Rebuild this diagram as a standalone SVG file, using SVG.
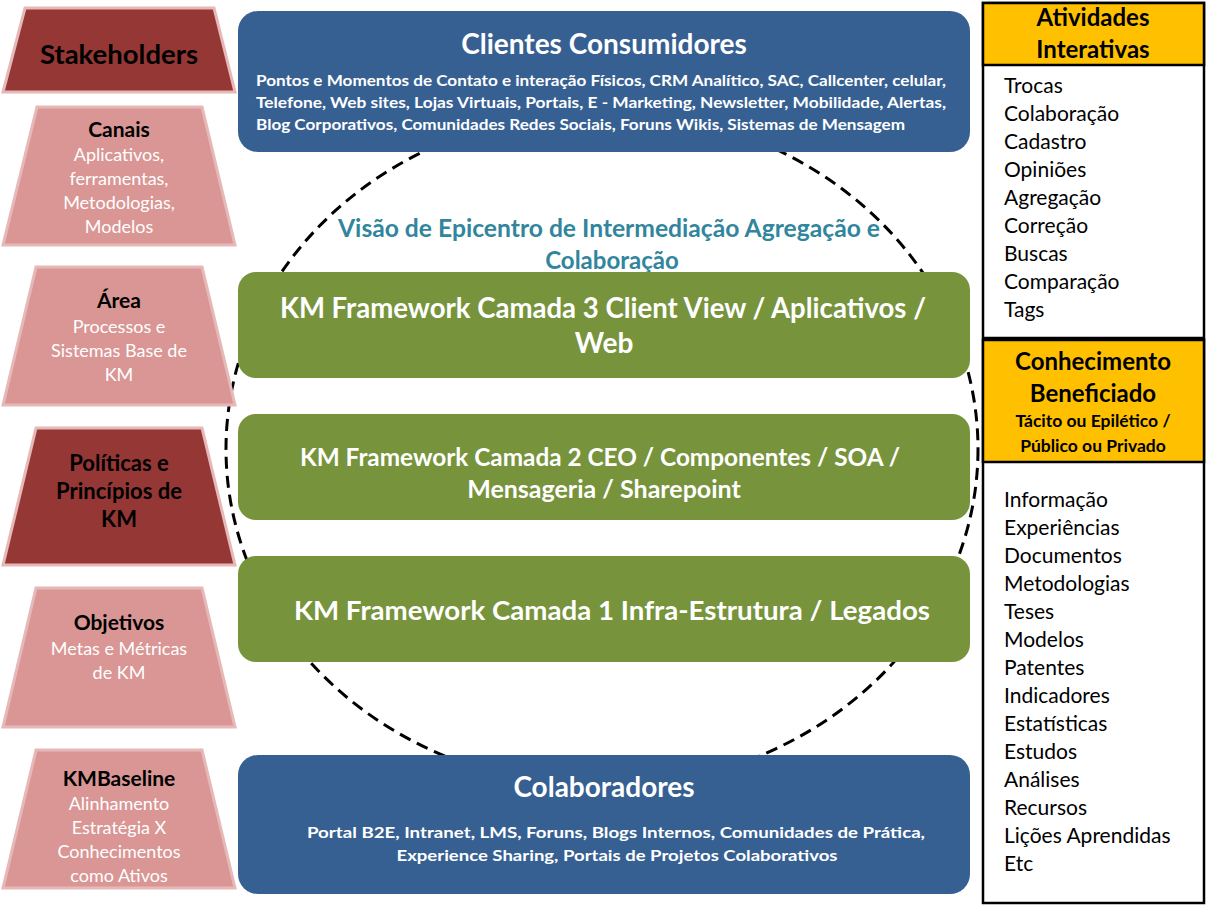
<svg xmlns="http://www.w3.org/2000/svg" width="1207" height="906" viewBox="0 0 1207 906">
<style>
text{font-family:Lato,"Open Sans","Liberation Sans",sans-serif}
.trapD{fill:#953735;stroke:#E6B9B8;stroke-width:3}
.trapL{fill:#D99694;stroke:#E6B9B8;stroke-width:3}
.tb{font-weight:bold;fill:#000;text-anchor:middle;font-size:21px}
.tw{fill:#fff;text-anchor:middle;font-size:18px}
.blue{fill:#376092}
.green{fill:#77933C}
.wb{fill:#fff;font-weight:bold;text-anchor:middle}
.hdr{fill:#FFC000;stroke:#000;stroke-width:2.5}
.lst{fill:#fff;stroke:#000;stroke-width:2.5}
.hb{font-weight:bold;fill:#000;text-anchor:middle}
.li{font-size:21px;fill:#000}
</style>
<rect width="1207" height="906" fill="#fff"/>
<g id="connectors">
<ellipse cx="602" cy="449" rx="376" ry="338" fill="none" stroke="#000" stroke-width="3" stroke-dasharray="12,7"/>
</g>
<g id="stakeholders">
<polygon class="trapD" points="25,8 214,8 235,92 3,92"/>
<text class="tb" x="119" y="64" style="font-size:27.5px">Stakeholders</text>
</g>
<g id="canais">
<polygon class="trapL" points="37,107 202,107 235,245 3,245"/>
<text class="tb" x="119" y="137">Canais</text>
<text class="tw" x="119" y="161">Aplicativos,</text>
<text class="tw" x="119" y="185">ferramentas,</text>
<text class="tw" x="119" y="209">Metodologias,</text>
<text class="tw" x="119" y="233">Modelos</text>
</g>
<g id="area">
<polygon class="trapL" points="36,267 202,267 235,405 3,405"/>
<text class="tb" x="119" y="308">Área</text>
<text class="tw" x="119" y="333">Processos e</text>
<text class="tw" x="119" y="357">Sistemas Base de</text>
<text class="tw" x="119" y="381">KM</text>
</g>
<g id="politicas">
<polygon class="trapD" points="36,428 202,428 235,565 3,565"/>
<text class="tb" x="119" y="471" style="font-size:22px">Políticas e</text>
<text class="tb" x="119" y="499" style="font-size:22px">Princípios de</text>
<text class="tb" x="119" y="527" style="font-size:22px">KM</text>
</g>
<g id="objetivos">
<polygon class="trapL" points="36,588 202,588 235,727 3,727"/>
<text class="tb" x="119" y="630">Objetivos</text>
<text class="tw" x="119" y="655">Metas e Métricas</text>
<text class="tw" x="119" y="679">de KM</text>
</g>
<g id="kmbaseline">
<polygon class="trapL" points="36,750 202,750 235,888 3,888"/>
<text class="tb" x="119" y="786">KMBaseline</text>
<text class="tw" x="119" y="810">Alinhamento</text>
<text class="tw" x="119" y="834">Estratégia X</text>
<text class="tw" x="119" y="858">Conhecimentos</text>
<text class="tw" x="119" y="882">como Ativos</text>
</g>
<g id="clientes">
<rect class="blue" x="238" y="11" width="732" height="141" rx="20"/>
<text class="wb" x="604" y="54" font-size="28">Clientes Consumidores</text>
<text fill="#fff" font-weight="bold" x="256" y="86" font-size="16" textLength="690" lengthAdjust="spacingAndGlyphs">Pontos e Momentos de Contato  e interação Físicos, CRM Analítico, SAC, Callcenter, celular,</text>
<text fill="#fff" font-weight="bold" x="256" y="108" font-size="16" textLength="690" lengthAdjust="spacingAndGlyphs">Telefone, Web sites, Lojas Virtuais, Portais, E - Marketing, Newsletter, Mobilidade, Alertas,</text>
<text fill="#fff" font-weight="bold" x="256" y="130" font-size="16" textLength="649" lengthAdjust="spacingAndGlyphs">Blog Corporativos, Comunidades Redes Sociais, Foruns Wikis, Sistemas de Mensagem</text>
</g>
<g id="visao">
<text fill="#31859C" font-weight="bold" text-anchor="middle" x="609" y="237" font-size="24" textLength="542" lengthAdjust="spacingAndGlyphs">Visão de Epicentro de Intermediação Agregação e</text>
<text fill="#31859C" font-weight="bold" text-anchor="middle" x="612" y="269" font-size="24">Colaboração</text>
</g>
<g id="camada3">
<rect class="green" x="238" y="272" width="732" height="106" rx="18"/>
<text class="wb" x="603" y="318" font-size="28" textLength="646" lengthAdjust="spacingAndGlyphs">KM Framework Camada 3 Client View / Aplicativos /</text>
<text class="wb" x="604" y="353" font-size="28">Web</text>
</g>
<g id="camada2">
<rect class="green" x="238" y="414" width="732" height="106" rx="18"/>
<text class="wb" x="600" y="466" font-size="25" textLength="600" lengthAdjust="spacingAndGlyphs">KM Framework Camada 2 CEO / Componentes / SOA /</text>
<text class="wb" x="604" y="498" font-size="25">Mensageria / Sharepoint</text>
</g>
<g id="camada1">
<rect class="green" x="238" y="556" width="732" height="106" rx="18"/>
<text class="wb" x="612" y="620" font-size="27" textLength="636" lengthAdjust="spacingAndGlyphs">KM Framework Camada 1 Infra-Estrutura / Legados</text>
</g>
<g id="colaboradores">
<rect class="blue" x="238" y="755" width="732" height="139" rx="20"/>
<text class="wb" x="604" y="797" font-size="28">Colaboradores</text>
<text class="wb" x="616" y="838" font-size="16" textLength="618" lengthAdjust="spacingAndGlyphs">Portal B2E, Intranet, LMS, Foruns, Blogs Internos, Comunidades  de Prática,</text>
<text class="wb" x="617" y="861" font-size="16" textLength="441" lengthAdjust="spacingAndGlyphs">Experience Sharing, Portais de Projetos Colaborativos</text>
</g>
<g id="atividades">
<rect class="lst" x="983" y="3" width="221" height="335"/>
<rect class="hdr" x="983" y="3" width="221" height="62"/>
<text class="hb" x="1093" y="26" font-size="24">Atividades</text>
<text class="hb" x="1093" y="58" font-size="24">Interativas</text>
<text class="li" x="1004" y="93">Trocas</text>
<text class="li" x="1004" y="121">Colaboração</text>
<text class="li" x="1004" y="149">Cadastro</text>
<text class="li" x="1004" y="177">Opiniões</text>
<text class="li" x="1004" y="205">Agregação</text>
<text class="li" x="1004" y="233">Correção</text>
<text class="li" x="1004" y="261">Buscas</text>
<text class="li" x="1004" y="289">Comparação</text>
<text class="li" x="1004" y="317">Tags</text>
</g>
<g id="conhecimento">
<rect class="lst" x="983" y="340" width="221" height="563"/>
<rect class="hdr" x="983" y="340" width="221" height="122"/>
<text class="hb" x="1093" y="370" font-size="24">Conhecimento</text>
<text class="hb" x="1093" y="402" font-size="24">Beneficiado</text>
<text class="hb" x="1093" y="427" font-size="17.5">Tácito ou Epilético /</text>
<text class="hb" x="1093" y="452" font-size="17.5">Público ou Privado</text>
<text class="li" x="1004" y="507">Informação</text>
<text class="li" x="1004" y="535">Experiências</text>
<text class="li" x="1004" y="563">Documentos</text>
<text class="li" x="1004" y="591">Metodologias</text>
<text class="li" x="1004" y="619">Teses</text>
<text class="li" x="1004" y="647">Modelos</text>
<text class="li" x="1004" y="675">Patentes</text>
<text class="li" x="1004" y="703">Indicadores</text>
<text class="li" x="1004" y="731">Estatísticas</text>
<text class="li" x="1004" y="759">Estudos</text>
<text class="li" x="1004" y="787">Análises</text>
<text class="li" x="1004" y="815">Recursos</text>
<text class="li" x="1004" y="843">Lições Aprendidas</text>
<text class="li" x="1004" y="871">Etc</text>
</g>
</svg>
